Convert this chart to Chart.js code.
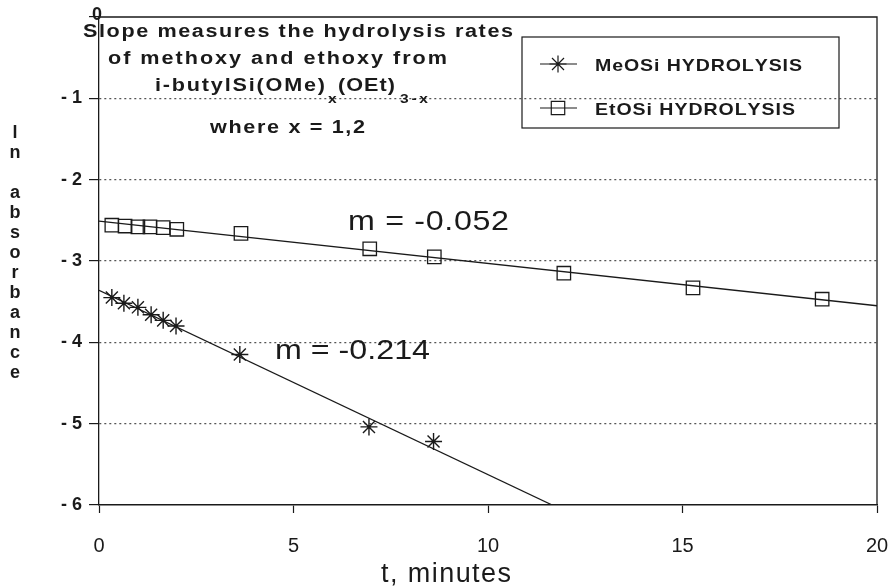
<!DOCTYPE html>
<html>
<head>
<meta charset="utf-8">
<script src="https://cdn.jsdelivr.net/npm/chart.js@4.4.1/dist/chart.umd.min.js"></script>
<style>
html,body{margin:0;padding:0;background:#fff;}
#wrap{width:890px;height:587px;position:relative;}
</style>
</head>
<body>
<div id="wrap"><canvas id="c" width="890" height="587"></canvas></div>
<script>
// ---- data ----
const meoTime   = [0.33, 0.64, 1.0, 1.34, 1.65, 1.98, 3.62, 6.94, 8.6];
const meoLnAbs  = [-3.45, -3.52, -3.57, -3.66, -3.73, -3.80, -4.15, -5.04, -5.22];
const etoTime   = [0.33, 0.67, 1.0, 1.31, 1.65, 2.0, 3.65, 6.96, 8.62, 11.95, 15.27, 18.59];
const etoLnAbs  = [-2.56, -2.57, -2.58, -2.58, -2.59, -2.61, -2.66, -2.85, -2.95, -3.15, -3.33, -3.47];
const meoFitTime = [0, 11.65];
const meoFitLn   = [-3.36, -6.0];
const etoFitTime = [0, 20];
const etoFitLn   = [-2.51, -3.55];
const seriesNames = ['MeOSi HYDROLYSIS', 'EtOSi HYDROLYSIS'];
const slopeLabels = ['m = -0.052', 'm = -0.214'];
const titleLines = ['Slope measures the hydrolysis rates', 'of methoxy and ethoxy from'];
const yTitle = ['l', 'n', '', 'a', 'b', 's', 'o', 'r', 'b', 'a', 'n', 'c', 'e'];
const xTitle = 't, minutes';
const xTicks = [0, 5, 10, 15, 20];
const yTicks = [0, -1, -2, -3, -4, -5, -6];

const pts = (xs, ys) => xs.map((x, i) => ({x: x, y: ys[i]}));
const SANS = '"Liberation Sans", Arial, sans-serif';
const INK = '#1a1a1a';

// draw text fitted to a target width: stretch glyphs (up to maxS) then spread the rest as spacing
function fitText(ctx, text, x, y, width, font, maxS) {
  ctx.font = font;
  const chars = Array.from(text);
  const ws = chars.map(c => ctx.measureText(c).width);
  const nat = ws.reduce((a, b) => a + b, 0);
  let s = width / nat;
  s = Math.max(0.6, Math.min(s, maxS || 1.2));
  const gap = chars.length > 1 ? (width - nat * s) / (chars.length - 1) : 0;
  let cx = x;
  chars.forEach((c, i) => {
    ctx.save(); ctx.translate(cx, y); ctx.scale(s, 1); ctx.fillText(c, 0, 0); ctx.restore();
    cx += ws[i] * s + gap;
  });
}

const annot = {
  id: 'annot',
  afterDraw(chart) {
    const ctx = chart.ctx, a = chart.chartArea;
    ctx.save();
    ctx.strokeStyle = INK; ctx.lineWidth = 1.3;
    ctx.beginPath();
    ctx.moveTo(a.left, a.top); ctx.lineTo(a.right, a.top); ctx.lineTo(a.right, a.bottom);
    ctx.stroke();
    ctx.fillStyle = INK;
    ctx.textBaseline = 'alphabetic'; ctx.textAlign = 'left';
    ctx.font = 'bold 18px ' + SANS;
    ctx.fillText(String(yTicks[0]), 92, 20);
    // title text
    const bf = 'bold 18px ' + SANS;
    fitText(ctx, titleLines[0], 83, 37, 430, bf, 1.2);
    fitText(ctx, titleLines[1], 108, 64, 339, bf, 1.2);
    fitText(ctx, 'i-butylSi(OMe)', 155, 91, 170, bf, 1.2);
    fitText(ctx, 'x', 328, 103, 9, 'bold 13px ' + SANS, 1.2);
    fitText(ctx, '(OEt)', 338, 91, 57, bf, 1.2);
    fitText(ctx, '3-x', 400, 103, 28, 'bold 13px ' + SANS, 1.2);
    fitText(ctx, 'where x = 1,2', 210, 133, 155, bf, 1.2);
    // slope labels
    fitText(ctx, slopeLabels[0], 348, 230, 161, '28px ' + SANS, 1.15);
    fitText(ctx, slopeLabels[1], 275, 359, 155, '28px ' + SANS, 1.15);
    // x axis title
    fitText(ctx, xTitle, 381, 582, 130, '27px ' + SANS, 1.0);
    // legend
    ctx.strokeStyle = INK; ctx.lineWidth = 1.2;
    ctx.strokeRect(522, 37, 317, 91);
    const ds = chart.data.datasets;
    [[0, 64, 207], [1, 108, 200]].forEach(([i, yy, w]) => {
      ctx.strokeStyle = INK; ctx.lineWidth = 1.2;
      ctx.beginPath(); ctx.moveTo(540, yy); ctx.lineTo(577, yy); ctx.stroke();
      ctx.fillStyle = 'rgba(0,0,0,0)';
      Chart.helpers.drawPoint(ctx, {pointStyle: ds[i].pointStyle, radius: ds[i].pointRadius, rotation: 0, borderWidth: 1.3}, 558, yy);
      ctx.fillStyle = INK;
      fitText(ctx, seriesNames[i], 595, yy + 7, w, 'bold 17px ' + SANS, 1.15);
    });
    // y axis title (stacked letters)
    ctx.font = 'bold 18px ' + SANS; ctx.textAlign = 'center';
    yTitle.forEach((ch, i) => { if (ch) ctx.fillText(ch, 15, 138 + 20 * i); });
    ctx.restore();
  }
};

new Chart(document.getElementById('c'), {
  type: 'scatter',
  data: {
    datasets: [
      {label: seriesNames[0], data: pts(meoTime, meoLnAbs), pointStyle: 'star', pointRadius: 8.5,
       borderColor: INK, backgroundColor: INK, pointBorderWidth: 1.4, showLine: false},
      {label: seriesNames[1], data: pts(etoTime, etoLnAbs), pointStyle: 'rect', pointRadius: 9.5,
       borderColor: INK, backgroundColor: 'rgba(0,0,0,0)', pointBorderWidth: 1.3, showLine: false},
      {label: 'fit1', data: pts(meoFitTime, meoFitLn), showLine: true, pointRadius: 0,
       borderColor: INK, borderWidth: 1.3, fill: false},
      {label: 'fit2', data: pts(etoFitTime, etoFitLn), showLine: true, pointRadius: 0,
       borderColor: INK, borderWidth: 1.3, fill: false}
    ]
  },
  options: {
    responsive: false, animation: false, devicePixelRatio: 1,
    layout: {padding: {top: 17, right: 13, bottom: 0, left: 0}},
    plugins: {legend: {display: false}, tooltip: {enabled: false}, title: {display: false}},
    scales: {
      x: {
        type: 'linear', min: 0, max: 20,
        afterFit: s => { s.height = 82; s.paddingLeft = 0; s.paddingRight = 0; },
        afterBuildTicks: s => { s.ticks = xTicks.map(v => ({value: v})); },
        border: {display: true, color: INK, width: 1.6},
        grid: {drawOnChartArea: false, drawTicks: true, tickLength: 8, tickColor: INK, tickWidth: 1.2},
        ticks: {color: INK, font: {family: SANS, size: 20}, padding: 21, maxRotation: 0},
        title: {display: false}
      },
      y: {
        type: 'linear', min: -6, max: 0,
        afterFit: s => { s.width = 99; s.paddingTop = 0; s.paddingBottom = 0; },
        afterBuildTicks: s => { s.ticks = yTicks.map(v => ({value: v})); },
        border: {display: true, color: INK, width: 1.3, dash: [2, 3]},
        grid: {
          drawOnChartArea: true, drawTicks: true, tickLength: 10, tickColor: INK, tickWidth: 1.2,
          color: c => (c.tick && (c.tick.value === 0 || c.tick.value === -6)) ? 'rgba(0,0,0,0)' : '#555',
          lineWidth: 1.2, tickBorderDash: [0, 0]
        },
        ticks: {
          color: INK, font: {family: SANS, size: 18, weight: 'bold'}, padding: 7,
          callback: v => v === 0 ? '' : '- ' + Math.abs(v)
        }
      }
    }
  },
  plugins: [annot]
});
</script>
</body>
</html>
